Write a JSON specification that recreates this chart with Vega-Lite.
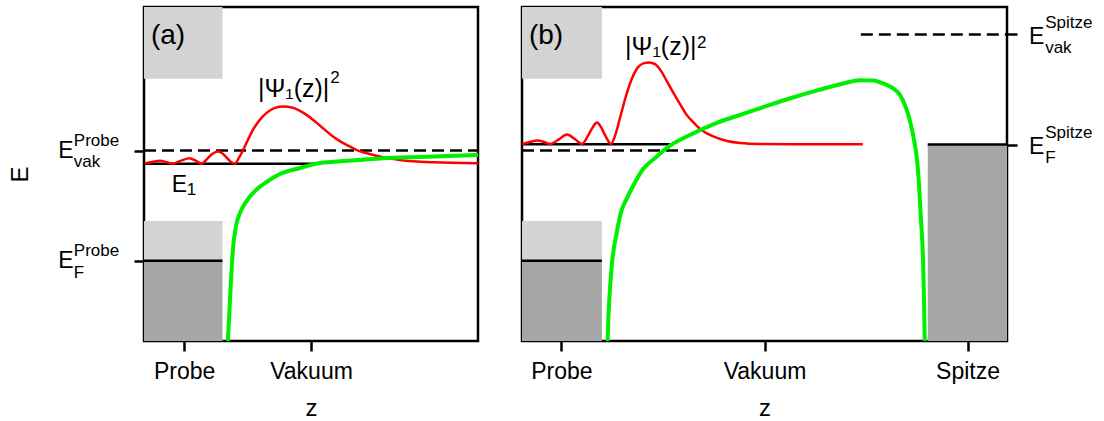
{
  "$schema": "https://vega.github.io/schema/vega-lite/v6.json",
  "padding": {"left": 7, "top": 5, "right": 0, "bottom": 0},
  "spacing": 38,
  "config": {
    "font": "Liberation Sans",
    "view": {"stroke": "black", "strokeWidth": 2.5},
    "axis": {
      "domain": false, "grid": false, "tickColor": "black", "tickWidth": 2.5, "tickSize": 10,
      "labelFontSize": 23, "labelColor": "black", "labelPadding": 9, "labelFlush": false,
      "titleFontSize": 24, "titleFontWeight": "normal", "titleColor": "black", "titlePadding": 13
    }
  },
  "datasets": {
    "a_rects": [
      {"x": 0, "x2": 2.35, "y": 7.85, "y2": 10, "band": "hell"},
      {"x": 0, "x2": 2.35, "y": 2.40, "y2": 3.59, "band": "hell"},
      {"x": 0, "x2": 2.35, "y": 0, "y2": 2.40, "band": "dunkel"}
    ],
    "b_rects": [
      {"x": 0, "x2": 2.39, "y": 7.85, "y2": 10, "band": "hell"},
      {"x": 0, "x2": 2.39, "y": 2.40, "y2": 3.59, "band": "hell"},
      {"x": 0, "x2": 2.39, "y": 0, "y2": 2.40, "band": "dunkel"},
      {"x": 12.13, "x2": 14.5, "y": 0, "y2": 5.88, "band": "dunkel"}
    ],
    "a_levels": [
      {"x": 0, "x2": 10, "y": 5.70, "kind": "gestrichelt"},
      {"x": 0, "x2": 5.18, "y": 5.31, "kind": "durchgezogen"},
      {"x": 0, "x2": 2.35, "y": 2.40, "kind": "durchgezogen"}
    ],
    "b_levels": [
      {"x": 0, "x2": 5.32, "y": 5.70, "kind": "gestrichelt"},
      {"x": 0, "x2": 4.42, "y": 5.89, "kind": "durchgezogen"},
      {"x": 0, "x2": 2.39, "y": 2.40, "kind": "durchgezogen"},
      {"x": 12.13, "x2": 14.5, "y": 5.88, "kind": "durchgezogen"},
      {"x": 10.13, "x2": 14.5, "y": 9.18, "kind": "gestrichelt"}
    ],
    "a_psi": [
      {"x": 0.03, "y": 5.32}, {"x": 0.24, "y": 5.36}, {"x": 0.48, "y": 5.40}, {"x": 0.69, "y": 5.35},
      {"x": 0.87, "y": 5.31}, {"x": 1.11, "y": 5.40}, {"x": 1.36, "y": 5.47}, {"x": 1.56, "y": 5.39},
      {"x": 1.73, "y": 5.31}, {"x": 1.86, "y": 5.42}, {"x": 2.04, "y": 5.60}, {"x": 2.22, "y": 5.67},
      {"x": 2.40, "y": 5.57}, {"x": 2.57, "y": 5.39}, {"x": 2.72, "y": 5.31}, {"x": 2.84, "y": 5.48},
      {"x": 2.97, "y": 5.72}, {"x": 3.11, "y": 6.02}, {"x": 3.26, "y": 6.32}, {"x": 3.44, "y": 6.59},
      {"x": 3.67, "y": 6.83}, {"x": 3.92, "y": 6.98}, {"x": 4.17, "y": 7.02}, {"x": 4.43, "y": 6.99},
      {"x": 4.67, "y": 6.89}, {"x": 4.91, "y": 6.74}, {"x": 5.17, "y": 6.53}, {"x": 5.42, "y": 6.32},
      {"x": 5.66, "y": 6.12}, {"x": 5.90, "y": 5.96}, {"x": 6.17, "y": 5.82}, {"x": 6.41, "y": 5.70},
      {"x": 6.67, "y": 5.62}, {"x": 7.16, "y": 5.50}, {"x": 7.66, "y": 5.42}, {"x": 8.65, "y": 5.35},
      {"x": 10.00, "y": 5.32}
    ],
    "a_pot": [
      {"x": 2.51, "y": 0.00}, {"x": 2.55, "y": 0.73}, {"x": 2.60, "y": 1.73}, {"x": 2.66, "y": 2.72},
      {"x": 2.75, "y": 3.42}, {"x": 2.87, "y": 3.82}, {"x": 3.07, "y": 4.19}, {"x": 3.32, "y": 4.49},
      {"x": 3.67, "y": 4.76}, {"x": 4.07, "y": 5.00}, {"x": 4.67, "y": 5.18}, {"x": 5.17, "y": 5.31},
      {"x": 5.87, "y": 5.38}, {"x": 6.56, "y": 5.43}, {"x": 7.16, "y": 5.47}, {"x": 8.26, "y": 5.51},
      {"x": 10.00, "y": 5.57}
    ],
    "b_psi": [
      {"x": 0.00, "y": 5.90}, {"x": 0.24, "y": 5.96}, {"x": 0.45, "y": 6.00}, {"x": 0.66, "y": 5.96},
      {"x": 0.84, "y": 5.90}, {"x": 1.08, "y": 6.02}, {"x": 1.35, "y": 6.18}, {"x": 1.58, "y": 6.05},
      {"x": 1.79, "y": 5.90}, {"x": 1.97, "y": 6.14}, {"x": 2.12, "y": 6.41}, {"x": 2.24, "y": 6.54},
      {"x": 2.36, "y": 6.41}, {"x": 2.51, "y": 6.11}, {"x": 2.66, "y": 5.90}, {"x": 2.78, "y": 6.14},
      {"x": 2.93, "y": 6.68}, {"x": 3.11, "y": 7.34}, {"x": 3.29, "y": 7.87}, {"x": 3.47, "y": 8.20},
      {"x": 3.65, "y": 8.32}, {"x": 3.80, "y": 8.34}, {"x": 3.98, "y": 8.29}, {"x": 4.16, "y": 8.08},
      {"x": 4.33, "y": 7.78}, {"x": 4.51, "y": 7.46}, {"x": 4.72, "y": 7.10}, {"x": 4.90, "y": 6.80},
      {"x": 5.11, "y": 6.56}, {"x": 5.32, "y": 6.35}, {"x": 5.56, "y": 6.20}, {"x": 5.83, "y": 6.08},
      {"x": 6.13, "y": 5.99}, {"x": 6.52, "y": 5.93}, {"x": 7.12, "y": 5.90}, {"x": 8.31, "y": 5.89},
      {"x": 10.19, "y": 5.89}
    ],
    "b_pot": [
      {"x": 2.56, "y": 0.00}, {"x": 2.58, "y": 0.63}, {"x": 2.61, "y": 1.23}, {"x": 2.68, "y": 2.22},
      {"x": 2.83, "y": 3.23}, {"x": 2.98, "y": 3.92}, {"x": 3.11, "y": 4.22}, {"x": 3.32, "y": 4.64},
      {"x": 3.62, "y": 5.15}, {"x": 3.98, "y": 5.48}, {"x": 4.33, "y": 5.78}, {"x": 5.02, "y": 6.17},
      {"x": 5.77, "y": 6.51}, {"x": 6.61, "y": 6.80}, {"x": 7.41, "y": 7.07}, {"x": 8.10, "y": 7.29},
      {"x": 8.85, "y": 7.51}, {"x": 9.60, "y": 7.71}, {"x": 10.10, "y": 7.81}, {"x": 10.49, "y": 7.80},
      {"x": 10.85, "y": 7.69}, {"x": 11.09, "y": 7.57}, {"x": 11.30, "y": 7.37}, {"x": 11.48, "y": 6.98},
      {"x": 11.60, "y": 6.59}, {"x": 11.72, "y": 6.02}, {"x": 11.81, "y": 5.42}, {"x": 11.87, "y": 4.67},
      {"x": 11.93, "y": 3.62}, {"x": 11.99, "y": 2.43}, {"x": 12.02, "y": 1.23}, {"x": 12.04, "y": 0.00}
    ],
    "a_text": [
      {"x": -2.57, "y": 5.48, "role": "E", "t": "E"},
      {"x": -2.10, "y": 5.83, "role": "klein", "t": "Probe"},
      {"x": -2.10, "y": 5.22, "role": "klein", "t": "vak"},
      {"x": -2.57, "y": 2.18, "role": "E", "t": "E"},
      {"x": -2.10, "y": 2.53, "role": "klein", "t": "Probe"},
      {"x": -2.10, "y": 1.90, "role": "klein", "t": "F"},
      {"x": 0.83, "y": 4.47, "role": "E", "t": "E"},
      {"x": 1.28, "y": 4.37, "role": "klein", "t": "1"},
      {"x": 0.72, "y": 8.89, "role": "panel", "t": "(a)"},
      {"x": 3.41, "y": 7.32, "role": "psi", "t": "|Ψ₁(z)|"},
      {"x": 5.58, "y": 7.72, "role": "klein", "t": "2"}
    ],
    "b_text": [
      {"x": 0.72, "y": 8.89, "role": "panel", "t": "(b)"},
      {"x": 3.08, "y": 8.56, "role": "psi", "t": "|Ψ₁(z)|"},
      {"x": 5.23, "y": 8.76, "role": "klein", "t": "2"},
      {"x": 15.16, "y": 8.89, "role": "E", "t": "E"},
      {"x": 15.64, "y": 9.38, "role": "klein", "t": "Spitze"},
      {"x": 15.64, "y": 8.62, "role": "klein", "t": "vak"},
      {"x": 15.16, "y": 5.60, "role": "E", "t": "E"},
      {"x": 15.64, "y": 6.07, "role": "klein", "t": "Spitze"},
      {"x": 15.64, "y": 5.34, "role": "klein", "t": "F"}
    ]
  },
  "hconcat": [
    {
      "width": 334,
      "height": 334,
      "encoding": {
        "x": {"field": "x", "type": "quantitative",
              "scale": {"domain": [0, 10], "nice": false, "zero": false},
              "axis": {"values": [1.2, 5], "labelExpr": "datum.value < 3 ? 'Probe' : 'Vakuum'", "title": "z"}},
        "y": {"field": "y", "type": "quantitative",
              "scale": {"domain": [0, 10], "nice": false, "zero": false},
              "axis": {"values": [2.4, 5.7], "labels": false, "title": "E", "titlePadding": 100}}
      },
      "layer": [
        {
          "data": {"name": "a_rects"},
          "mark": {"type": "rect"},
          "encoding": {
            "x2": {"field": "x2"}, "y2": {"field": "y2"},
            "color": {"field": "band", "type": "nominal", "legend": null,
                      "scale": {"domain": ["hell", "dunkel"], "range": ["#d3d3d3", "#a6a6a6"]}}
          }
        },
        {
          "data": {"name": "a_levels"},
          "mark": {"type": "rule", "color": "black", "strokeWidth": 2.5},
          "encoding": {
            "x2": {"field": "x2"},
            "strokeDash": {"field": "kind", "type": "nominal", "legend": null,
                           "scale": {"domain": ["durchgezogen", "gestrichelt"], "range": [[1, 0], [12, 6]]}}
          }
        },
        {
          "data": {"name": "a_psi"},
          "mark": {"type": "line", "color": "#ff0000", "strokeWidth": 2.5, "interpolate": "monotone", "clip": true},
          "encoding": {}
        },
        {
          "data": {"name": "a_pot"},
          "mark": {"type": "line", "color": "#00ee00", "strokeWidth": 4, "interpolate": "monotone", "clip": true},
          "encoding": {}
        },
        {
          "data": {"name": "a_text"},
          "transform": [{"filter": "datum.role === 'E'"}],
          "mark": {"type": "text", "color": "black", "fontSize": 23, "align": "left", "baseline": "alphabetic"},
          "encoding": {"text": {"field": "t"}}
        },
        {
          "data": {"name": "a_text"},
          "transform": [{"filter": "datum.role === 'klein'"}],
          "mark": {"type": "text", "color": "black", "fontSize": 17, "align": "left", "baseline": "alphabetic"},
          "encoding": {"text": {"field": "t"}}
        },
        {
          "data": {"name": "a_text"},
          "transform": [{"filter": "datum.role === 'panel'"}],
          "mark": {"type": "text", "color": "black", "fontSize": 28, "align": "center", "baseline": "alphabetic"},
          "encoding": {"text": {"field": "t"}}
        },
        {
          "data": {"name": "a_text"},
          "transform": [{"filter": "datum.role === 'psi'"}],
          "mark": {"type": "text", "color": "black", "fontSize": 25, "align": "left", "baseline": "alphabetic"},
          "encoding": {"text": {"field": "t"}}
        }
      ]
    },
    {
      "width": 485,
      "height": 334,
      "encoding": {
        "x": {"field": "x", "type": "quantitative",
              "scale": {"domain": [0, 14.5], "nice": false, "zero": false},
              "axis": {"values": [1.18, 7.25, 13.32], "labelExpr": "datum.value < 3 ? 'Probe' : datum.value < 10 ? 'Vakuum' : 'Spitze'", "title": "z"}},
        "y": {"field": "y", "type": "quantitative",
              "scale": {"domain": [0, 10], "nice": false, "zero": false},
              "axis": {"orient": "right", "values": [5.88, 9.18], "labels": false, "title": null}}
      },
      "layer": [
        {
          "data": {"name": "b_rects"},
          "mark": {"type": "rect"},
          "encoding": {
            "x2": {"field": "x2"}, "y2": {"field": "y2"},
            "color": {"field": "band", "type": "nominal", "legend": null,
                      "scale": {"domain": ["hell", "dunkel"], "range": ["#d3d3d3", "#a6a6a6"]}}
          }
        },
        {
          "data": {"name": "b_levels"},
          "mark": {"type": "rule", "color": "black", "strokeWidth": 2.5},
          "encoding": {
            "x2": {"field": "x2"},
            "strokeDash": {"field": "kind", "type": "nominal", "legend": null,
                           "scale": {"domain": ["durchgezogen", "gestrichelt"], "range": [[1, 0], [12, 6]]}}
          }
        },
        {
          "data": {"name": "b_psi"},
          "mark": {"type": "line", "color": "#ff0000", "strokeWidth": 2.5, "interpolate": "monotone", "clip": true},
          "encoding": {}
        },
        {
          "data": {"name": "b_pot"},
          "mark": {"type": "line", "color": "#00ee00", "strokeWidth": 4, "interpolate": "monotone", "clip": true},
          "encoding": {}
        },
        {
          "data": {"name": "b_text"},
          "transform": [{"filter": "datum.role === 'E'"}],
          "mark": {"type": "text", "color": "black", "fontSize": 23, "align": "left", "baseline": "alphabetic"},
          "encoding": {"text": {"field": "t"}}
        },
        {
          "data": {"name": "b_text"},
          "transform": [{"filter": "datum.role === 'klein'"}],
          "mark": {"type": "text", "color": "black", "fontSize": 17, "align": "left", "baseline": "alphabetic"},
          "encoding": {"text": {"field": "t"}}
        },
        {
          "data": {"name": "b_text"},
          "transform": [{"filter": "datum.role === 'panel'"}],
          "mark": {"type": "text", "color": "black", "fontSize": 28, "align": "center", "baseline": "alphabetic"},
          "encoding": {"text": {"field": "t"}}
        },
        {
          "data": {"name": "b_text"},
          "transform": [{"filter": "datum.role === 'psi'"}],
          "mark": {"type": "text", "color": "black", "fontSize": 25, "align": "left", "baseline": "alphabetic"},
          "encoding": {"text": {"field": "t"}}
        }
      ]
    }
  ]
}
